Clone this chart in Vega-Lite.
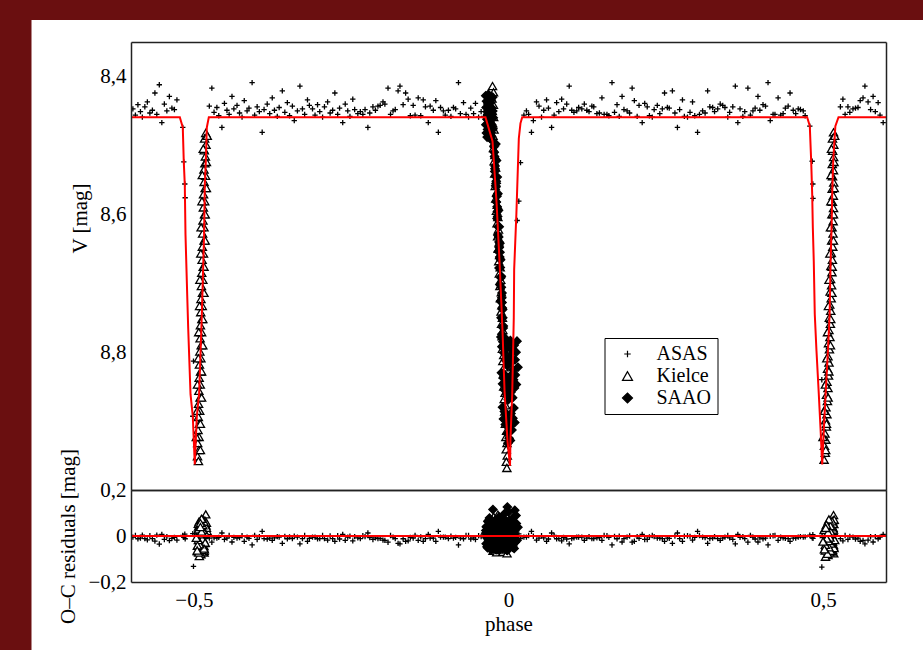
{
"$schema":"https://vega.github.io/schema/vega-lite/v6.json",
"background":"#6a0f10",
"padding":{"left":31,"top":19,"right":0,"bottom":0},
"config":{"view":{"stroke":null},"font":"Liberation Serif","axis":{"domainColor":"#222222","domainWidth":1.5,"tickColor":"#333333","tickWidth":1.5,"labelFont":"Liberation Serif","labelFontSize":21,"labelColor":"black","titleFont":"Liberation Serif","titleFontSize":21,"titleFontWeight":"normal","titleColor":"black","grid":false,"labelFlush":false,"labelOverlap":false,"labelBound":false}},
"datasets":{
"model":[{"phase":-0.6,"V":8.459},{"phase":-0.5224,"V":8.459},{"phase":-0.5177,"V":8.474},{"phase":-0.5161,"V":8.524},{"phase":-0.5145,"V":8.557},{"phase":-0.5134,"V":8.629},{"phase":-0.5107,"V":8.716},{"phase":-0.5091,"V":8.765},{"phase":-0.5054,"V":8.861},{"phase":-0.5018,"V":8.893},{"phase":-0.4986,"V":8.963},{"phase":-0.4954,"V":8.893},{"phase":-0.4918,"V":8.861},{"phase":-0.4881,"V":8.765},{"phase":-0.4865,"V":8.716},{"phase":-0.4838,"V":8.629},{"phase":-0.4827,"V":8.557},{"phase":-0.4811,"V":8.524},{"phase":-0.4795,"V":8.474},{"phase":-0.4763,"V":8.459},{"phase":-0.0366,"V":8.459},{"phase":-0.0254,"V":8.494},{"phase":-0.0191,"V":8.581},{"phase":-0.0143,"V":8.668},{"phase":-0.0095,"V":8.769},{"phase":-0.0063,"V":8.856},{"phase":-0.0016,"V":8.929},{"phase":0.0024,"V":8.965},{"phase":0.0032,"V":8.924},{"phase":0.0059,"V":8.861},{"phase":0.0084,"V":8.75},{"phase":0.009,"V":8.68},{"phase":0.0125,"V":8.6},{"phase":0.0164,"V":8.49},{"phase":0.019,"V":8.468},{"phase":0.0218,"V":8.459},{"phase":0.4747,"V":8.459},{"phase":0.4789,"V":8.472},{"phase":0.4811,"V":8.523},{"phase":0.4827,"V":8.571},{"phase":0.4837,"V":8.619},{"phase":0.4852,"V":8.668},{"phase":0.4868,"V":8.745},{"phase":0.4895,"V":8.798},{"phase":0.4932,"V":8.861},{"phase":0.4959,"V":8.91},{"phase":0.4986,"V":8.963},{"phase":0.5013,"V":8.91},{"phase":0.504,"V":8.861},{"phase":0.5077,"V":8.798},{"phase":0.5104,"V":8.745},{"phase":0.512,"V":8.668},{"phase":0.5135,"V":8.619},{"phase":0.5145,"V":8.571},{"phase":0.5161,"V":8.523},{"phase":0.5195,"V":8.472},{"phase":0.5245,"V":8.459},{"phase":0.6,"V":8.459}],
"zero":[{"phase":-0.6,"OC":0},{"phase":0.6,"OC":0}],
"obs":[
{"phase":-0.597,"V":8.447,"OC":-0.005,"set":"ASAS"},{"phase":-0.593,"V":8.456,"OC":0.002,"set":"ASAS"},{"phase":-0.589,"V":8.441,"OC":-0.012,"set":"ASAS"},{"phase":-0.585,"V":8.451,"OC":-0.009,"set":"ASAS"},{"phase":-0.582,"V":8.459,"OC":0.004,"set":"ASAS"},{"phase":-0.578,"V":8.444,"OC":-0.011,"set":"ASAS"},{"phase":-0.574,"V":8.437,"OC":-0.017,"set":"ASAS"},{"phase":-0.57,"V":8.453,"OC":0.001,"set":"ASAS"},{"phase":-0.566,"V":8.449,"OC":-0.011,"set":"ASAS"},{"phase":-0.562,"V":8.424,"OC":-0.022,"set":"ASAS"},{"phase":-0.559,"V":8.455,"OC":0.004,"set":"ASAS"},{"phase":-0.555,"V":8.412,"OC":-0.035,"set":"ASAS"},{"phase":-0.551,"V":8.467,"OC":0.007,"set":"ASAS"},{"phase":-0.547,"V":8.44,"OC":-0.015,"set":"ASAS"},{"phase":-0.543,"V":8.45,"OC":-0.003,"set":"ASAS"},{"phase":-0.539,"V":8.429,"OC":-0.02,"set":"ASAS"},{"phase":-0.535,"V":8.446,"OC":-0.01,"set":"ASAS"},{"phase":-0.531,"V":8.448,"OC":-0.006,"set":"ASAS"},{"phase":-0.527,"V":8.434,"OC":-0.018,"set":"ASAS"},
{"phase":-0.5177,"V":8.474,"OC":0.003,"set":"ASAS"},{"phase":-0.5161,"V":8.524,"OC":-0.006,"set":"ASAS"},{"phase":-0.5145,"V":8.556,"OC":0.008,"set":"ASAS"},{"phase":-0.5139,"V":8.576,"OC":-0.012,"set":"ASAS"},{"phase":-0.5018,"V":8.893,"OC":0.01,"set":"ASAS"},{"phase":-0.5007,"V":8.813,"OC":-0.132,"set":"ASAS"},
{"phase":-0.4755,"V":8.443,"OC":-0.009,"set":"ASAS"},{"phase":-0.4715,"V":8.417,"OC":-0.027,"set":"ASAS"},{"phase":-0.468,"V":8.452,"OC":-0.008,"set":"ASAS"},{"phase":-0.4635,"V":8.445,"OC":-0.009,"set":"ASAS"},{"phase":-0.4605,"V":8.457,"OC":-0.006,"set":"ASAS"},{"phase":-0.4555,"V":8.474,"OC":0.013,"set":"ASAS"},{"phase":-0.4515,"V":8.439,"OC":-0.015,"set":"ASAS"},{"phase":-0.4475,"V":8.449,"OC":-0.009,"set":"ASAS"},{"phase":-0.444,"V":8.455,"OC":0.002,"set":"ASAS"},{"phase":-0.4395,"V":8.429,"OC":-0.026,"set":"ASAS"},{"phase":-0.4365,"V":8.447,"OC":-0.006,"set":"ASAS"},{"phase":-0.4315,"V":8.442,"OC":-0.009,"set":"ASAS"},{"phase":-0.4275,"V":8.453,"OC":-0.007,"set":"ASAS"},{"phase":-0.4235,"V":8.459,"OC":0.001,"set":"ASAS"},{"phase":-0.42,"V":8.435,"OC":-0.023,"set":"ASAS"},{"phase":-0.4155,"V":8.45,"OC":-0.005,"set":"ASAS"},{"phase":-0.4125,"V":8.446,"OC":-0.01,"set":"ASAS"},{"phase":-0.4075,"V":8.409,"OC":-0.039,"set":"ASAS"},{"phase":-0.4035,"V":8.456,"OC":0.003,"set":"ASAS"},{"phase":-0.3995,"V":8.444,"OC":-0.015,"set":"ASAS"},{"phase":-0.396,"V":8.451,"OC":-0.003,"set":"ASAS"},{"phase":-0.3915,"V":8.481,"OC":0.02,"set":"ASAS"},{"phase":-0.3885,"V":8.448,"OC":-0.011,"set":"ASAS"},{"phase":-0.3835,"V":8.44,"OC":-0.013,"set":"ASAS"},{"phase":-0.3795,"V":8.454,"OC":-0.009,"set":"ASAS"},{"phase":-0.3755,"V":8.431,"OC":-0.019,"set":"ASAS"},{"phase":-0.372,"V":8.449,"OC":-0.008,"set":"ASAS"},{"phase":-0.3675,"V":8.458,"OC":-0.003,"set":"ASAS"},{"phase":-0.3645,"V":8.445,"OC":-0.005,"set":"ASAS"},{"phase":-0.3595,"V":8.421,"OC":-0.032,"set":"ASAS"},{"phase":-0.3555,"V":8.452,"OC":-0.002,"set":"ASAS"},{"phase":-0.3515,"V":8.438,"OC":-0.012,"set":"ASAS"},{"phase":-0.348,"V":8.457,"OC":-0.004,"set":"ASAS"},{"phase":-0.3435,"V":8.443,"OC":-0.011,"set":"ASAS"},{"phase":-0.3405,"V":8.464,"OC":-0.001,"set":"ASAS"},{"phase":-0.3355,"V":8.45,"OC":-0.005,"set":"ASAS"},{"phase":-0.3315,"V":8.414,"OC":-0.034,"set":"ASAS"},{"phase":-0.3275,"V":8.447,"OC":-0.011,"set":"ASAS"},{"phase":-0.324,"V":8.455,"OC":0.002,"set":"ASAS"},{"phase":-0.3195,"V":8.434,"OC":-0.023,"set":"ASAS"},{"phase":-0.3165,"V":8.442,"OC":-0.01,"set":"ASAS"},{"phase":-0.3115,"V":8.447,"OC":-0.005,"set":"ASAS"},{"phase":-0.3075,"V":8.456,"OC":-0.005,"set":"ASAS"},{"phase":-0.3035,"V":8.441,"OC":-0.012,"set":"ASAS"},{"phase":-0.3,"V":8.451,"OC":-0.011,"set":"ASAS"},{"phase":-0.2955,"V":8.459,"OC":0.002,"set":"ASAS"},{"phase":-0.2925,"V":8.444,"OC":-0.011,"set":"ASAS"},{"phase":-0.2875,"V":8.437,"OC":-0.018,"set":"ASAS"},{"phase":-0.2835,"V":8.453,"OC":0.0,"set":"ASAS"},{"phase":-0.2795,"V":8.449,"OC":-0.011,"set":"ASAS"},{"phase":-0.276,"V":8.424,"OC":-0.023,"set":"ASAS"},{"phase":-0.2715,"V":8.455,"OC":0.001,"set":"ASAS"},{"phase":-0.2685,"V":8.446,"OC":-0.013,"set":"ASAS"},{"phase":-0.2635,"V":8.467,"OC":0.007,"set":"ASAS"},{"phase":-0.2595,"V":8.44,"OC":-0.019,"set":"ASAS"},{"phase":-0.2555,"V":8.45,"OC":-0.005,"set":"ASAS"},{"phase":-0.252,"V":8.458,"OC":-0.001,"set":"ASAS"},{"phase":-0.2475,"V":8.433,"OC":-0.021,"set":"ASAS"},{"phase":-0.2445,"V":8.448,"OC":-0.003,"set":"ASAS"},{"phase":-0.2395,"V":8.454,"OC":-0.008,"set":"ASAS"},
{"phase":-0.2355,"V":8.451,"OC":-0.011,"set":"ASAS"},{"phase":-0.2315,"V":8.455,"OC":0.001,"set":"ASAS"},{"phase":-0.228,"V":8.448,"OC":-0.003,"set":"ASAS"},{"phase":-0.2235,"V":8.474,"OC":0.013,"set":"ASAS"},{"phase":-0.2205,"V":8.453,"OC":-0.007,"set":"ASAS"},{"phase":-0.2155,"V":8.444,"OC":-0.015,"set":"ASAS"},{"phase":-0.2115,"V":8.449,"OC":-0.008,"set":"ASAS"},{"phase":-0.2075,"V":8.443,"OC":-0.011,"set":"ASAS"},{"phase":-0.204,"V":8.442,"OC":-0.01,"set":"ASAS"},{"phase":-0.1995,"V":8.437,"OC":-0.018,"set":"ASAS"},{"phase":-0.1965,"V":8.44,"OC":-0.019,"set":"ASAS"},{"phase":-0.1915,"V":8.417,"OC":-0.027,"set":"ASAS"},{"phase":-0.1875,"V":8.455,"OC":0.002,"set":"ASAS"},{"phase":-0.1835,"V":8.45,"OC":-0.005,"set":"ASAS"},{"phase":-0.18,"V":8.448,"OC":-0.011,"set":"ASAS"},{"phase":-0.1755,"V":8.421,"OC":-0.032,"set":"ASAS"},{"phase":-0.1725,"V":8.414,"OC":-0.034,"set":"ASAS"},{"phase":-0.1675,"V":8.441,"OC":-0.012,"set":"ASAS"},{"phase":-0.1635,"V":8.424,"OC":-0.023,"set":"ASAS"},{"phase":-0.1595,"V":8.433,"OC":-0.021,"set":"ASAS"},{"phase":-0.156,"V":8.457,"OC":-0.006,"set":"ASAS"},{"phase":-0.1515,"V":8.442,"OC":-0.009,"set":"ASAS"},{"phase":-0.1485,"V":8.456,"OC":0.003,"set":"ASAS"},{"phase":-0.1435,"V":8.431,"OC":-0.019,"set":"ASAS"},{"phase":-0.1395,"V":8.457,"OC":-0.004,"set":"ASAS"},{"phase":-0.1355,"V":8.434,"OC":-0.023,"set":"ASAS"},{"phase":-0.132,"V":8.444,"OC":-0.011,"set":"ASAS"},{"phase":-0.1275,"V":8.467,"OC":0.007,"set":"ASAS"},{"phase":-0.1245,"V":8.443,"OC":-0.009,"set":"ASAS"},{"phase":-0.1195,"V":8.449,"OC":-0.009,"set":"ASAS"},{"phase":-0.1155,"V":8.435,"OC":-0.023,"set":"ASAS"},{"phase":-0.1115,"V":8.481,"OC":0.02,"set":"ASAS"},{"phase":-0.108,"V":8.445,"OC":-0.005,"set":"ASAS"},{"phase":-0.1035,"V":8.45,"OC":-0.005,"set":"ASAS"},{"phase":-0.1005,"V":8.456,"OC":-0.005,"set":"ASAS"},{"phase":-0.0955,"V":8.449,"OC":-0.011,"set":"ASAS"},{"phase":-0.0915,"V":8.458,"OC":-0.001,"set":"ASAS"},{"phase":-0.0875,"V":8.445,"OC":-0.009,"set":"ASAS"},{"phase":-0.084,"V":8.447,"OC":-0.006,"set":"ASAS"},{"phase":-0.0795,"V":8.409,"OC":-0.039,"set":"ASAS"},{"phase":-0.0765,"V":8.454,"OC":-0.009,"set":"ASAS"},{"phase":-0.0715,"V":8.438,"OC":-0.012,"set":"ASAS"},{"phase":-0.0675,"V":8.455,"OC":0.002,"set":"ASAS"},{"phase":-0.0635,"V":8.459,"OC":0.002,"set":"ASAS"},{"phase":-0.06,"V":8.446,"OC":-0.013,"set":"ASAS"},{"phase":-0.0555,"V":8.454,"OC":-0.008,"set":"ASAS"},{"phase":-0.0525,"V":8.439,"OC":-0.015,"set":"ASAS"},{"phase":-0.0475,"V":8.459,"OC":0.001,"set":"ASAS"},{"phase":-0.0435,"V":8.451,"OC":-0.003,"set":"ASAS"},{"phase":-0.0395,"V":8.458,"OC":-0.003,"set":"ASAS"},
{"phase":0.0138,"V":8.609,"OC":-0.004,"set":"ASAS"},{"phase":0.0164,"V":8.581,"OC":0.009,"set":"ASAS"},{"phase":0.0191,"V":8.525,"OC":-0.011,"set":"ASAS"},
{"phase":0.0245,"V":8.456,"OC":-0.005,"set":"ASAS"},{"phase":0.0285,"V":8.45,"OC":-0.005,"set":"ASAS"},{"phase":0.032,"V":8.455,"OC":0.002,"set":"ASAS"},{"phase":0.0365,"V":8.481,"OC":0.02,"set":"ASAS"},{"phase":0.0395,"V":8.464,"OC":-0.001,"set":"ASAS"},{"phase":0.0445,"V":8.437,"OC":-0.018,"set":"ASAS"},{"phase":0.0485,"V":8.443,"OC":-0.009,"set":"ASAS"},{"phase":0.0525,"V":8.459,"OC":0.001,"set":"ASAS"},{"phase":0.056,"V":8.449,"OC":-0.008,"set":"ASAS"},{"phase":0.0605,"V":8.434,"OC":-0.023,"set":"ASAS"},{"phase":0.0635,"V":8.446,"OC":-0.013,"set":"ASAS"},{"phase":0.0685,"V":8.474,"OC":0.013,"set":"ASAS"},{"phase":0.0725,"V":8.456,"OC":0.003,"set":"ASAS"},{"phase":0.0765,"V":8.438,"OC":-0.012,"set":"ASAS"},{"phase":0.08,"V":8.451,"OC":-0.011,"set":"ASAS"},{"phase":0.0845,"V":8.433,"OC":-0.021,"set":"ASAS"},{"phase":0.0875,"V":8.447,"OC":-0.006,"set":"ASAS"},{"phase":0.0925,"V":8.44,"OC":-0.013,"set":"ASAS"},{"phase":0.0965,"V":8.414,"OC":-0.034,"set":"ASAS"},{"phase":0.1005,"V":8.449,"OC":-0.011,"set":"ASAS"},{"phase":0.104,"V":8.452,"OC":-0.008,"set":"ASAS"},{"phase":0.1085,"V":8.45,"OC":-0.005,"set":"ASAS"},{"phase":0.1115,"V":8.445,"OC":-0.005,"set":"ASAS"},{"phase":0.1165,"V":8.447,"OC":-0.005,"set":"ASAS"},{"phase":0.1205,"V":8.44,"OC":-0.019,"set":"ASAS"},{"phase":0.1245,"V":8.449,"OC":-0.009,"set":"ASAS"},{"phase":0.128,"V":8.451,"OC":-0.003,"set":"ASAS"},{"phase":0.1325,"V":8.443,"OC":-0.011,"set":"ASAS"},{"phase":0.1355,"V":8.444,"OC":-0.011,"set":"ASAS"},{"phase":0.1405,"V":8.454,"OC":-0.008,"set":"ASAS"},{"phase":0.1445,"V":8.453,"OC":-0.007,"set":"ASAS"},{"phase":0.1485,"V":8.431,"OC":-0.019,"set":"ASAS"},{"phase":0.152,"V":8.455,"OC":0.002,"set":"ASAS"},{"phase":0.1565,"V":8.455,"OC":0.001,"set":"ASAS"},{"phase":0.1595,"V":8.457,"OC":-0.006,"set":"ASAS"},{"phase":0.1645,"V":8.409,"OC":-0.039,"set":"ASAS"},{"phase":0.1685,"V":8.452,"OC":-0.002,"set":"ASAS"},{"phase":0.1725,"V":8.441,"OC":-0.012,"set":"ASAS"},{"phase":0.176,"V":8.458,"OC":-0.001,"set":"ASAS"},{"phase":0.1805,"V":8.429,"OC":-0.026,"set":"ASAS"},{"phase":0.1835,"V":8.448,"OC":-0.011,"set":"ASAS"},{"phase":0.1885,"V":8.45,"OC":-0.005,"set":"ASAS"},{"phase":0.1925,"V":8.453,"OC":0.0,"set":"ASAS"},{"phase":0.1965,"V":8.417,"OC":-0.027,"set":"ASAS"},{"phase":0.2,"V":8.435,"OC":-0.023,"set":"ASAS"},{"phase":0.2045,"V":8.458,"OC":-0.003,"set":"ASAS"},{"phase":0.2075,"V":8.442,"OC":-0.01,"set":"ASAS"},{"phase":0.2125,"V":8.467,"OC":0.007,"set":"ASAS"},{"phase":0.2165,"V":8.439,"OC":-0.015,"set":"ASAS"},{"phase":0.2205,"V":8.444,"OC":-0.015,"set":"ASAS"},{"phase":0.224,"V":8.457,"OC":-0.004,"set":"ASAS"},{"phase":0.2285,"V":8.459,"OC":0.002,"set":"ASAS"},{"phase":0.2315,"V":8.448,"OC":-0.003,"set":"ASAS"},{"phase":0.2365,"V":8.442,"OC":-0.009,"set":"ASAS"},{"phase":0.2405,"V":8.454,"OC":-0.009,"set":"ASAS"},{"phase":0.2445,"V":8.447,"OC":-0.011,"set":"ASAS"},{"phase":0.248,"V":8.424,"OC":-0.023,"set":"ASAS"},{"phase":0.2525,"V":8.445,"OC":-0.009,"set":"ASAS"},{"phase":0.2555,"V":8.446,"OC":-0.01,"set":"ASAS"},{"phase":0.2605,"V":8.421,"OC":-0.032,"set":"ASAS"},
{"phase":0.2645,"V":8.453,"OC":0.0,"set":"ASAS"},{"phase":0.2685,"V":8.474,"OC":0.013,"set":"ASAS"},{"phase":0.272,"V":8.448,"OC":-0.011,"set":"ASAS"},{"phase":0.2765,"V":8.434,"OC":-0.023,"set":"ASAS"},{"phase":0.2795,"V":8.458,"OC":-0.001,"set":"ASAS"},{"phase":0.2845,"V":8.459,"OC":0.001,"set":"ASAS"},{"phase":0.2885,"V":8.452,"OC":-0.002,"set":"ASAS"},{"phase":0.2925,"V":8.437,"OC":-0.018,"set":"ASAS"},{"phase":0.296,"V":8.457,"OC":-0.006,"set":"ASAS"},{"phase":0.3005,"V":8.481,"OC":0.02,"set":"ASAS"},{"phase":0.3035,"V":8.455,"OC":0.002,"set":"ASAS"},{"phase":0.3085,"V":8.45,"OC":-0.005,"set":"ASAS"},{"phase":0.3125,"V":8.453,"OC":-0.007,"set":"ASAS"},{"phase":0.3165,"V":8.421,"OC":-0.032,"set":"ASAS"},{"phase":0.32,"V":8.444,"OC":-0.011,"set":"ASAS"},{"phase":0.3245,"V":8.445,"OC":-0.009,"set":"ASAS"},{"phase":0.3275,"V":8.451,"OC":-0.003,"set":"ASAS"},{"phase":0.3325,"V":8.447,"OC":-0.011,"set":"ASAS"},{"phase":0.3365,"V":8.44,"OC":-0.019,"set":"ASAS"},{"phase":0.3405,"V":8.442,"OC":-0.009,"set":"ASAS"},{"phase":0.344,"V":8.445,"OC":-0.005,"set":"ASAS"},{"phase":0.3485,"V":8.459,"OC":0.002,"set":"ASAS"},{"phase":0.3515,"V":8.452,"OC":-0.008,"set":"ASAS"},{"phase":0.3565,"V":8.444,"OC":-0.015,"set":"ASAS"},{"phase":0.3605,"V":8.414,"OC":-0.034,"set":"ASAS"},{"phase":0.3645,"V":8.467,"OC":0.007,"set":"ASAS"},{"phase":0.368,"V":8.447,"OC":-0.006,"set":"ASAS"},{"phase":0.3725,"V":8.458,"OC":-0.003,"set":"ASAS"},{"phase":0.3755,"V":8.451,"OC":-0.011,"set":"ASAS"},{"phase":0.3805,"V":8.417,"OC":-0.027,"set":"ASAS"},{"phase":0.3845,"V":8.456,"OC":0.003,"set":"ASAS"},{"phase":0.3885,"V":8.45,"OC":-0.005,"set":"ASAS"},{"phase":0.392,"V":8.446,"OC":-0.013,"set":"ASAS"},{"phase":0.3965,"V":8.429,"OC":-0.026,"set":"ASAS"},{"phase":0.3995,"V":8.449,"OC":-0.008,"set":"ASAS"},{"phase":0.4045,"V":8.441,"OC":-0.012,"set":"ASAS"},{"phase":0.4085,"V":8.443,"OC":-0.009,"set":"ASAS"},{"phase":0.4125,"V":8.409,"OC":-0.039,"set":"ASAS"},{"phase":0.416,"V":8.464,"OC":-0.001,"set":"ASAS"},{"phase":0.4205,"V":8.455,"OC":0.001,"set":"ASAS"},{"phase":0.4235,"V":8.455,"OC":0.002,"set":"ASAS"},{"phase":0.4285,"V":8.431,"OC":-0.019,"set":"ASAS"},{"phase":0.4325,"V":8.456,"OC":-0.005,"set":"ASAS"},{"phase":0.4365,"V":8.454,"OC":-0.008,"set":"ASAS"},{"phase":0.44,"V":8.446,"OC":-0.01,"set":"ASAS"},{"phase":0.4445,"V":8.443,"OC":-0.011,"set":"ASAS"},{"phase":0.4475,"V":8.424,"OC":-0.023,"set":"ASAS"},{"phase":0.4525,"V":8.449,"OC":-0.009,"set":"ASAS"},{"phase":0.4565,"V":8.454,"OC":-0.009,"set":"ASAS"},{"phase":0.4605,"V":8.447,"OC":-0.005,"set":"ASAS"},{"phase":0.464,"V":8.448,"OC":-0.003,"set":"ASAS"},{"phase":0.4685,"V":8.45,"OC":-0.005,"set":"ASAS"},{"phase":0.4715,"V":8.457,"OC":-0.004,"set":"ASAS"},
{"phase":0.4789,"V":8.472,"OC":0.004,"set":"ASAS"},{"phase":0.4827,"V":8.523,"OC":-0.008,"set":"ASAS"},{"phase":0.4837,"V":8.556,"OC":0.006,"set":"ASAS"},{"phase":0.484,"V":8.577,"OC":-0.01,"set":"ASAS"},{"phase":0.498,"V":8.84,"OC":-0.135,"set":"ASAS"},
{"phase":0.5275,"V":8.444,"OC":-0.011,"set":"ASAS"},{"phase":0.5315,"V":8.433,"OC":-0.021,"set":"ASAS"},{"phase":0.535,"V":8.455,"OC":0.002,"set":"ASAS"},{"phase":0.5395,"V":8.444,"OC":-0.015,"set":"ASAS"},{"phase":0.5425,"V":8.452,"OC":-0.002,"set":"ASAS"},{"phase":0.5475,"V":8.447,"OC":-0.005,"set":"ASAS"},{"phase":0.5515,"V":8.446,"OC":-0.013,"set":"ASAS"},{"phase":0.5555,"V":8.445,"OC":-0.009,"set":"ASAS"},{"phase":0.559,"V":8.435,"OC":-0.023,"set":"ASAS"},{"phase":0.5635,"V":8.431,"OC":-0.019,"set":"ASAS"},{"phase":0.5665,"V":8.414,"OC":-0.034,"set":"ASAS"},{"phase":0.5715,"V":8.437,"OC":-0.018,"set":"ASAS"},{"phase":0.5755,"V":8.448,"OC":-0.003,"set":"ASAS"},{"phase":0.5795,"V":8.429,"OC":-0.026,"set":"ASAS"},{"phase":0.583,"V":8.451,"OC":-0.003,"set":"ASAS"},{"phase":0.5875,"V":8.438,"OC":-0.012,"set":"ASAS"},{"phase":0.5905,"V":8.456,"OC":-0.005,"set":"ASAS"},{"phase":0.5955,"V":8.467,"OC":0.007,"set":"ASAS"},
{"phase":-0.4812,"V":8.482,"OC":0.094,"set":"Kielce"},{"phase":-0.483,"V":8.49,"OC":-0.031,"set":"Kielce"},{"phase":-0.4808,"V":8.499,"OC":0.046,"set":"Kielce"},{"phase":-0.4835,"V":8.507,"OC":-0.058,"set":"Kielce"},{"phase":-0.4818,"V":8.516,"OC":0.012,"set":"Kielce"},{"phase":-0.4826,"V":8.526,"OC":0.067,"set":"Kielce"},{"phase":-0.484,"V":8.535,"OC":-0.044,"set":"Kielce"},{"phase":-0.4815,"V":8.544,"OC":0.025,"set":"Kielce"},{"phase":-0.4838,"V":8.553,"OC":-0.072,"set":"Kielce"},{"phase":-0.4822,"V":8.562,"OC":0.038,"set":"Kielce"},{"phase":-0.4847,"V":8.571,"OC":-0.015,"set":"Kielce"},{"phase":-0.4829,"V":8.581,"OC":0.055,"set":"Kielce"},{"phase":-0.485,"V":8.59,"OC":-0.049,"set":"Kielce"},{"phase":-0.4831,"V":8.6,"OC":0.008,"set":"Kielce"},{"phase":-0.4856,"V":8.609,"OC":0.071,"set":"Kielce"},{"phase":-0.484,"V":8.619,"OC":-0.026,"set":"Kielce"},{"phase":-0.4862,"V":8.628,"OC":0.033,"set":"Kielce"},{"phase":-0.4838,"V":8.638,"OC":-0.064,"set":"Kielce"},{"phase":-0.4866,"V":8.647,"OC":0.019,"set":"Kielce"},{"phase":-0.4848,"V":8.657,"OC":0.052,"set":"Kielce"},{"phase":-0.487,"V":8.666,"OC":-0.038,"set":"Kielce"},{"phase":-0.4852,"V":8.676,"OC":0.004,"set":"Kielce"},{"phase":-0.4876,"V":8.685,"OC":0.061,"set":"Kielce"},{"phase":-0.4858,"V":8.695,"OC":-0.053,"set":"Kielce"},{"phase":-0.4881,"V":8.704,"OC":0.027,"set":"Kielce"},{"phase":-0.4864,"V":8.714,"OC":-0.011,"set":"Kielce"},{"phase":-0.4888,"V":8.723,"OC":0.044,"set":"Kielce"},{"phase":-0.4868,"V":8.733,"OC":-0.068,"set":"Kielce"},{"phase":-0.4892,"V":8.742,"OC":0.015,"set":"Kielce"},{"phase":-0.4873,"V":8.752,"OC":0.036,"set":"Kielce"},{"phase":-0.4897,"V":8.761,"OC":-0.047,"set":"Kielce"},{"phase":-0.4878,"V":8.771,"OC":0.058,"set":"Kielce"},{"phase":-0.4902,"V":8.78,"OC":-0.022,"set":"Kielce"},{"phase":-0.4884,"V":8.79,"OC":0.009,"set":"Kielce"},{"phase":-0.4906,"V":8.799,"OC":0.049,"set":"Kielce"},{"phase":-0.4889,"V":8.809,"OC":-0.079,"set":"Kielce"},{"phase":-0.4912,"V":8.818,"OC":0.031,"set":"Kielce"},{"phase":-0.4894,"V":8.828,"OC":-0.035,"set":"Kielce"},{"phase":-0.4917,"V":8.837,"OC":0.063,"set":"Kielce"},{"phase":-0.4899,"V":8.847,"OC":-0.006,"set":"Kielce"},{"phase":-0.4921,"V":8.856,"OC":0.022,"set":"Kielce"},{"phase":-0.4903,"V":8.866,"OC":-0.058,"set":"Kielce"},{"phase":-0.4926,"V":8.875,"OC":0.041,"set":"Kielce"},{"phase":-0.4908,"V":8.885,"OC":-0.019,"set":"Kielce"},{"phase":-0.493,"V":8.894,"OC":0.053,"set":"Kielce"},{"phase":-0.4914,"V":8.904,"OC":-0.087,"set":"Kielce"},{"phase":-0.4935,"V":8.913,"OC":0.017,"set":"Kielce"},{"phase":-0.4918,"V":8.923,"OC":0.035,"set":"Kielce"},{"phase":-0.494,"V":8.932,"OC":-0.042,"set":"Kielce"},{"phase":-0.4922,"V":8.942,"OC":0.011,"set":"Kielce"},{"phase":-0.4943,"V":8.951,"OC":-0.066,"set":"Kielce"},{"phase":-0.4928,"V":8.958,"OC":0.029,"set":"Kielce"},
{"phase":-0.4788,"V":8.486,"OC":0.021,"set":"Kielce"},{"phase":-0.4852,"V":8.505,"OC":-0.047,"set":"Kielce"},{"phase":-0.4802,"V":8.524,"OC":0.058,"set":"Kielce"},{"phase":-0.4867,"V":8.543,"OC":-0.012,"set":"Kielce"},{"phase":-0.4802,"V":8.562,"OC":0.036,"set":"Kielce"},{"phase":-0.4872,"V":8.581,"OC":-0.061,"set":"Kielce"},{"phase":-0.4821,"V":8.6,"OC":0.014,"set":"Kielce"},{"phase":-0.4886,"V":8.619,"OC":0.069,"set":"Kielce"},{"phase":-0.4821,"V":8.638,"OC":-0.029,"set":"Kielce"},{"phase":-0.4891,"V":8.657,"OC":0.042,"set":"Kielce"},{"phase":-0.484,"V":8.676,"OC":-0.055,"set":"Kielce"},{"phase":-0.4905,"V":8.695,"OC":0.007,"set":"Kielce"},{"phase":-0.484,"V":8.714,"OC":0.063,"set":"Kielce"},{"phase":-0.491,"V":8.733,"OC":-0.036,"set":"Kielce"},{"phase":-0.4859,"V":8.752,"OC":0.026,"set":"Kielce"},{"phase":-0.4924,"V":8.771,"OC":-0.072,"set":"Kielce"},{"phase":-0.4859,"V":8.79,"OC":0.047,"set":"Kielce"},{"phase":-0.4929,"V":8.809,"OC":-0.018,"set":"Kielce"},{"phase":-0.4878,"V":8.828,"OC":0.075,"set":"Kielce"},{"phase":-0.4943,"V":8.847,"OC":-0.041,"set":"Kielce"},{"phase":-0.4878,"V":8.866,"OC":0.019,"set":"Kielce"},{"phase":-0.4948,"V":8.885,"OC":-0.063,"set":"Kielce"},{"phase":-0.4897,"V":8.904,"OC":0.056,"set":"Kielce"},{"phase":-0.4962,"V":8.923,"OC":-0.008,"set":"Kielce"},{"phase":-0.4897,"V":8.942,"OC":0.039,"set":"Kielce"},
{"phase":0.5166,"V":8.481,"OC":0.091,"set":"Kielce"},{"phase":0.5149,"V":8.49,"OC":-0.024,"set":"Kielce"},{"phase":0.517,"V":8.499,"OC":0.052,"set":"Kielce"},{"phase":0.5152,"V":8.508,"OC":-0.061,"set":"Kielce"},{"phase":0.5168,"V":8.517,"OC":0.018,"set":"Kielce"},{"phase":0.5146,"V":8.527,"OC":0.063,"set":"Kielce"},{"phase":0.5165,"V":8.536,"OC":-0.039,"set":"Kielce"},{"phase":0.515,"V":8.545,"OC":0.029,"set":"Kielce"},{"phase":0.5169,"V":8.554,"OC":-0.075,"set":"Kielce"},{"phase":0.5144,"V":8.563,"OC":0.042,"set":"Kielce"},{"phase":0.5163,"V":8.573,"OC":-0.012,"set":"Kielce"},{"phase":0.5148,"V":8.582,"OC":0.057,"set":"Kielce"},{"phase":0.5166,"V":8.591,"OC":-0.046,"set":"Kielce"},{"phase":0.514,"V":8.6,"OC":0.005,"set":"Kielce"},{"phase":0.516,"V":8.61,"OC":0.068,"set":"Kielce"},{"phase":0.5143,"V":8.619,"OC":-0.029,"set":"Kielce"},{"phase":0.5158,"V":8.628,"OC":0.036,"set":"Kielce"},{"phase":0.5136,"V":8.638,"OC":-0.067,"set":"Kielce"},{"phase":0.5154,"V":8.647,"OC":0.021,"set":"Kielce"},{"phase":0.513,"V":8.656,"OC":0.049,"set":"Kielce"},{"phase":0.5148,"V":8.666,"OC":-0.035,"set":"Kielce"},{"phase":0.5124,"V":8.675,"OC":0.007,"set":"Kielce"},{"phase":0.5141,"V":8.684,"OC":0.059,"set":"Kielce"},{"phase":0.5119,"V":8.694,"OC":-0.056,"set":"Kielce"},{"phase":0.5135,"V":8.703,"OC":0.024,"set":"Kielce"},{"phase":0.5112,"V":8.712,"OC":-0.014,"set":"Kielce"},{"phase":0.5129,"V":8.722,"OC":0.047,"set":"Kielce"},{"phase":0.5106,"V":8.731,"OC":-0.071,"set":"Kielce"},{"phase":0.5122,"V":8.74,"OC":0.013,"set":"Kielce"},{"phase":0.5099,"V":8.75,"OC":0.039,"set":"Kielce"},{"phase":0.5116,"V":8.759,"OC":-0.044,"set":"Kielce"},{"phase":0.5093,"V":8.768,"OC":0.055,"set":"Kielce"},{"phase":0.5109,"V":8.778,"OC":-0.019,"set":"Kielce"},{"phase":0.5086,"V":8.787,"OC":0.011,"set":"Kielce"},{"phase":0.5101,"V":8.796,"OC":0.046,"set":"Kielce"},{"phase":0.5078,"V":8.806,"OC":-0.083,"set":"Kielce"},{"phase":0.5094,"V":8.815,"OC":0.028,"set":"Kielce"},{"phase":0.5071,"V":8.824,"OC":-0.032,"set":"Kielce"},{"phase":0.5086,"V":8.834,"OC":0.066,"set":"Kielce"},{"phase":0.5062,"V":8.843,"OC":-0.009,"set":"Kielce"},{"phase":0.5078,"V":8.852,"OC":0.025,"set":"Kielce"},{"phase":0.5054,"V":8.862,"OC":-0.061,"set":"Kielce"},{"phase":0.5069,"V":8.871,"OC":0.038,"set":"Kielce"},{"phase":0.5046,"V":8.88,"OC":-0.016,"set":"Kielce"},{"phase":0.5061,"V":8.89,"OC":0.05,"set":"Kielce"},{"phase":0.5038,"V":8.899,"OC":-0.09,"set":"Kielce"},{"phase":0.5052,"V":8.908,"OC":0.014,"set":"Kielce"},{"phase":0.503,"V":8.918,"OC":0.032,"set":"Kielce"},{"phase":0.5044,"V":8.927,"OC":-0.045,"set":"Kielce"},{"phase":0.5022,"V":8.936,"OC":0.009,"set":"Kielce"},{"phase":0.5035,"V":8.946,"OC":-0.063,"set":"Kielce"},{"phase":0.5016,"V":8.956,"OC":0.026,"set":"Kielce"},
{"phase":0.5185,"V":8.486,"OC":-0.018,"set":"Kielce"},{"phase":0.5133,"V":8.505,"OC":0.044,"set":"Kielce"},{"phase":0.5174,"V":8.524,"OC":-0.052,"set":"Kielce"},{"phase":0.5126,"V":8.543,"OC":0.017,"set":"Kielce"},{"phase":0.5177,"V":8.562,"OC":0.071,"set":"Kielce"},{"phase":0.5124,"V":8.581,"OC":-0.033,"set":"Kielce"},{"phase":0.5165,"V":8.6,"OC":0.028,"set":"Kielce"},{"phase":0.5117,"V":8.619,"OC":-0.064,"set":"Kielce"},{"phase":0.5164,"V":8.638,"OC":0.053,"set":"Kielce"},{"phase":0.5108,"V":8.657,"OC":-0.007,"set":"Kielce"},{"phase":0.5145,"V":8.676,"OC":0.038,"set":"Kielce"},{"phase":0.5094,"V":8.695,"OC":-0.049,"set":"Kielce"},{"phase":0.5141,"V":8.714,"OC":0.064,"set":"Kielce"},{"phase":0.5085,"V":8.733,"OC":-0.022,"set":"Kielce"},{"phase":0.5122,"V":8.752,"OC":0.019,"set":"Kielce"},{"phase":0.507,"V":8.771,"OC":-0.077,"set":"Kielce"},{"phase":0.5117,"V":8.79,"OC":0.043,"set":"Kielce"},{"phase":0.5059,"V":8.809,"OC":-0.011,"set":"Kielce"},{"phase":0.5092,"V":8.828,"OC":0.072,"set":"Kielce"},{"phase":0.5037,"V":8.847,"OC":-0.038,"set":"Kielce"},{"phase":0.508,"V":8.866,"OC":0.016,"set":"Kielce"},{"phase":0.5021,"V":8.885,"OC":-0.058,"set":"Kielce"},{"phase":0.5054,"V":8.904,"OC":0.049,"set":"Kielce"},{"phase":0.4999,"V":8.923,"OC":-0.024,"set":"Kielce"},{"phase":0.5042,"V":8.942,"OC":0.035,"set":"Kielce"},
{"phase":-0.0254,"V":8.414,"OC":0.045,"set":"Kielce"},{"phase":-0.0238,"V":8.423,"OC":-0.021,"set":"Kielce"},{"phase":-0.0262,"V":8.432,"OC":0.068,"set":"Kielce"},{"phase":-0.024,"V":8.441,"OC":-0.052,"set":"Kielce"},{"phase":-0.0258,"V":8.45,"OC":0.013,"set":"Kielce"},{"phase":-0.0236,"V":8.459,"OC":0.084,"set":"Kielce"},{"phase":-0.0252,"V":8.468,"OC":-0.037,"set":"Kielce"},{"phase":-0.023,"V":8.477,"OC":0.026,"set":"Kielce"},{"phase":-0.0246,"V":8.486,"OC":-0.064,"set":"Kielce"},{"phase":-0.0224,"V":8.495,"OC":0.051,"set":"Kielce"},{"phase":-0.0239,"V":8.504,"OC":-0.008,"set":"Kielce"},{"phase":-0.0216,"V":8.514,"OC":0.037,"set":"Kielce"},{"phase":-0.0228,"V":8.523,"OC":-0.045,"set":"Kielce"},{"phase":-0.0205,"V":8.532,"OC":0.072,"set":"Kielce"},{"phase":-0.0219,"V":8.541,"OC":0.004,"set":"Kielce"},{"phase":-0.0196,"V":8.55,"OC":-0.029,"set":"Kielce"},{"phase":-0.0211,"V":8.559,"OC":0.059,"set":"Kielce"},{"phase":-0.0188,"V":8.568,"OC":-0.071,"set":"Kielce"},{"phase":-0.0202,"V":8.577,"OC":0.019,"set":"Kielce"},{"phase":-0.0178,"V":8.586,"OC":0.041,"set":"Kielce"},{"phase":-0.0192,"V":8.595,"OC":-0.016,"set":"Kielce"},{"phase":-0.0169,"V":8.604,"OC":0.093,"set":"Kielce"},{"phase":-0.0182,"V":8.613,"OC":-0.056,"set":"Kielce"},{"phase":-0.016,"V":8.622,"OC":0.031,"set":"Kielce"},{"phase":-0.0173,"V":8.632,"OC":0.003,"set":"Kielce"},{"phase":-0.015,"V":8.641,"OC":-0.041,"set":"Kielce"},{"phase":-0.0164,"V":8.65,"OC":0.064,"set":"Kielce"},{"phase":-0.0141,"V":8.659,"OC":-0.024,"set":"Kielce"},{"phase":-0.0155,"V":8.668,"OC":0.011,"set":"Kielce"},{"phase":-0.0132,"V":8.677,"OC":0.048,"set":"Kielce"},{"phase":-0.0146,"V":8.686,"OC":-0.061,"set":"Kielce"},{"phase":-0.0123,"V":8.695,"OC":0.027,"set":"Kielce"},{"phase":-0.0136,"V":8.704,"OC":-0.033,"set":"Kielce"},{"phase":-0.0114,"V":8.713,"OC":0.057,"set":"Kielce"},{"phase":-0.0127,"V":8.722,"OC":-0.012,"set":"Kielce"},{"phase":-0.0105,"V":8.732,"OC":0.079,"set":"Kielce"},{"phase":-0.0118,"V":8.741,"OC":-0.048,"set":"Kielce"},{"phase":-0.0097,"V":8.75,"OC":0.021,"set":"Kielce"},{"phase":-0.011,"V":8.759,"OC":0.006,"set":"Kielce"},{"phase":-0.009,"V":8.768,"OC":-0.069,"set":"Kielce"},{"phase":-0.0103,"V":8.777,"OC":0.043,"set":"Kielce"},{"phase":-0.0083,"V":8.786,"OC":-0.027,"set":"Kielce"},{"phase":-0.0097,"V":8.795,"OC":0.062,"set":"Kielce"},{"phase":-0.0076,"V":8.804,"OC":0.015,"set":"Kielce"},{"phase":-0.009,"V":8.813,"OC":-0.054,"set":"Kielce"},{"phase":-0.007,"V":8.822,"OC":0.034,"set":"Kielce"},{"phase":-0.0084,"V":8.832,"OC":-0.003,"set":"Kielce"},{"phase":-0.0063,"V":8.841,"OC":0.071,"set":"Kielce"},{"phase":-0.0076,"V":8.85,"OC":-0.038,"set":"Kielce"},{"phase":-0.0055,"V":8.859,"OC":0.028,"set":"Kielce"},{"phase":-0.0068,"V":8.868,"OC":-0.059,"set":"Kielce"},{"phase":-0.0046,"V":8.877,"OC":0.049,"set":"Kielce"},{"phase":-0.0059,"V":8.886,"OC":0.01,"set":"Kielce"},{"phase":-0.0038,"V":8.895,"OC":-0.044,"set":"Kielce"},{"phase":-0.005,"V":8.904,"OC":0.066,"set":"Kielce"},{"phase":-0.003,"V":8.914,"OC":-0.018,"set":"Kielce"},{"phase":-0.0042,"V":8.923,"OC":0.038,"set":"Kielce"},{"phase":-0.0024,"V":8.932,"OC":-0.075,"set":"Kielce"},{"phase":-0.0036,"V":8.941,"OC":0.023,"set":"Kielce"},{"phase":-0.002,"V":8.95,"OC":0.054,"set":"Kielce"},{"phase":-0.0034,"V":8.959,"OC":-0.009,"set":"Kielce"},{"phase":-0.0026,"V":8.968,"OC":0.031,"set":"Kielce"},
{"phase":-0.0362,"V":8.428,"OC":0.012,"set":"SAAO"},{"phase":-0.0355,"V":8.445,"OC":-0.034,"set":"SAAO"},{"phase":-0.0349,"V":8.436,"OC":0.041,"set":"SAAO"},{"phase":-0.0343,"V":8.462,"OC":-0.008,"set":"SAAO"},{"phase":-0.0338,"V":8.451,"OC":0.026,"set":"SAAO"},{"phase":-0.0333,"V":8.477,"OC":-0.051,"set":"SAAO"},{"phase":-0.0328,"V":8.44,"OC":0.063,"set":"SAAO"},{"phase":-0.0322,"V":8.468,"OC":0.005,"set":"SAAO"},{"phase":-0.0317,"V":8.455,"OC":-0.022,"set":"SAAO"},{"phase":-0.0312,"V":8.486,"OC":0.036,"set":"SAAO"},{"phase":-0.0307,"V":8.432,"OC":-0.015,"set":"SAAO"},{"phase":-0.0302,"V":8.472,"OC":0.078,"set":"SAAO"},{"phase":-0.0297,"V":8.449,"OC":-0.043,"set":"SAAO"},{"phase":-0.0292,"V":8.49,"OC":0.019,"set":"SAAO"},{"phase":-0.0287,"V":8.438,"OC":0.002,"set":"SAAO"},{"phase":-0.0282,"V":8.463,"OC":-0.029,"set":"SAAO"},{"phase":-0.0277,"V":8.481,"OC":0.054,"set":"SAAO"},{"phase":-0.0272,"V":8.445,"OC":-0.061,"set":"SAAO"},{"phase":-0.0267,"V":8.47,"OC":0.031,"set":"SAAO"},{"phase":-0.0262,"V":8.455,"OC":0.009,"set":"SAAO"},{"phase":-0.0257,"V":8.493,"OC":-0.038,"set":"SAAO"},{"phase":-0.0252,"V":8.43,"OC":0.047,"set":"SAAO"},{"phase":-0.0247,"V":8.476,"OC":0.115,"set":"SAAO"},{"phase":-0.0242,"V":8.46,"OC":-0.012,"set":"SAAO"},{"phase":-0.036,"V":8.47,"OC":0.024,"set":"SAAO"},{"phase":-0.034,"V":8.488,"OC":-0.047,"set":"SAAO"},{"phase":-0.032,"V":8.426,"OC":0.067,"set":"SAAO"},{"phase":-0.03,"V":8.458,"OC":0.015,"set":"SAAO"},{"phase":-0.028,"V":8.434,"OC":-0.025,"set":"SAAO"},{"phase":-0.035,"V":8.482,"OC":0.039,"set":"SAAO"},{"phase":-0.033,"V":8.455,"OC":0.021,"set":"SAAO"},{"phase":-0.031,"V":8.444,"OC":-0.017,"set":"SAAO"},{"phase":-0.029,"V":8.473,"OC":0.044,"set":"SAAO"},{"phase":-0.027,"V":8.487,"OC":-0.036,"set":"SAAO"},{"phase":-0.025,"V":8.45,"OC":0.008,"set":"SAAO"},
{"phase":-0.023,"V":8.502,"OC":-0.041,"set":"SAAO"},{"phase":-0.0222,"V":8.516,"OC":0.027,"set":"SAAO"},{"phase":-0.0214,"V":8.53,"OC":0.065,"set":"SAAO"},{"phase":-0.0205,"V":8.545,"OC":-0.019,"set":"SAAO"},{"phase":-0.0197,"V":8.56,"OC":0.034,"set":"SAAO"},{"phase":-0.0188,"V":8.574,"OC":-0.058,"set":"SAAO"},{"phase":-0.018,"V":8.589,"OC":0.012,"set":"SAAO"},{"phase":-0.0172,"V":8.603,"OC":0.049,"set":"SAAO"},{"phase":-0.0163,"V":8.618,"OC":-0.027,"set":"SAAO"},{"phase":-0.0155,"V":8.633,"OC":0.073,"set":"SAAO"},{"phase":-0.0147,"V":8.648,"OC":-0.008,"set":"SAAO"},{"phase":-0.0139,"V":8.662,"OC":0.038,"set":"SAAO"},{"phase":-0.013,"V":8.677,"OC":-0.046,"set":"SAAO"},{"phase":-0.0122,"V":8.692,"OC":0.021,"set":"SAAO"},{"phase":-0.0114,"V":8.706,"OC":0.056,"set":"SAAO"},{"phase":-0.0106,"V":8.721,"OC":-0.033,"set":"SAAO"},{"phase":-0.0098,"V":8.736,"OC":0.004,"set":"SAAO"},{"phase":-0.0091,"V":8.75,"OC":0.061,"set":"SAAO"},{"phase":-0.0084,"V":8.765,"OC":-0.052,"set":"SAAO"},{"phase":-0.0218,"V":8.538,"OC":0.029,"set":"SAAO"},{"phase":-0.0176,"V":8.596,"OC":0.015,"set":"SAAO"},{"phase":-0.0135,"V":8.655,"OC":-0.024,"set":"SAAO"},{"phase":-0.0102,"V":8.728,"OC":0.047,"set":"SAAO"},{"phase":-0.0195,"V":8.552,"OC":-0.011,"set":"SAAO"},{"phase":-0.015,"V":8.64,"OC":0.083,"set":"SAAO"},
{"phase":-0.0201,"V":8.498,"OC":0.018,"set":"SAAO"},{"phase":-0.0226,"V":8.51,"OC":-0.036,"set":"SAAO"},{"phase":-0.019,"V":8.522,"OC":0.052,"set":"SAAO"},{"phase":-0.0215,"V":8.534,"OC":-0.009,"set":"SAAO"},{"phase":-0.0179,"V":8.546,"OC":0.031,"set":"SAAO"},{"phase":-0.0204,"V":8.558,"OC":-0.047,"set":"SAAO"},{"phase":-0.0168,"V":8.57,"OC":0.066,"set":"SAAO"},{"phase":-0.0193,"V":8.582,"OC":0.006,"set":"SAAO"},{"phase":-0.0158,"V":8.594,"OC":-0.028,"set":"SAAO"},{"phase":-0.0182,"V":8.606,"OC":0.044,"set":"SAAO"},{"phase":-0.0147,"V":8.618,"OC":-0.061,"set":"SAAO"},{"phase":-0.0171,"V":8.63,"OC":0.023,"set":"SAAO"},{"phase":-0.0136,"V":8.642,"OC":0.058,"set":"SAAO"},{"phase":-0.0161,"V":8.654,"OC":-0.016,"set":"SAAO"},{"phase":-0.0125,"V":8.666,"OC":0.037,"set":"SAAO"},{"phase":-0.015,"V":8.678,"OC":-0.042,"set":"SAAO"},{"phase":-0.0114,"V":8.69,"OC":0.071,"set":"SAAO"},{"phase":-0.0139,"V":8.702,"OC":0.002,"set":"SAAO"},{"phase":-0.0103,"V":8.714,"OC":-0.033,"set":"SAAO"},{"phase":-0.0128,"V":8.726,"OC":0.049,"set":"SAAO"},{"phase":-0.0093,"V":8.738,"OC":-0.054,"set":"SAAO"},{"phase":-0.0117,"V":8.75,"OC":0.014,"set":"SAAO"},{"phase":-0.0082,"V":8.762,"OC":0.062,"set":"SAAO"},{"phase":-0.0106,"V":8.774,"OC":-0.021,"set":"SAAO"},
{"phase":-0.012,"V":8.778,"OC":0.032,"set":"SAAO"},{"phase":-0.0105,"V":8.792,"OC":-0.047,"set":"SAAO"},{"phase":-0.009,"V":8.785,"OC":0.071,"set":"SAAO"},{"phase":-0.0075,"V":8.801,"OC":0.008,"set":"SAAO"},{"phase":-0.006,"V":8.779,"OC":-0.025,"set":"SAAO"},{"phase":-0.0045,"V":8.812,"OC":0.052,"set":"SAAO"},{"phase":-0.003,"V":8.795,"OC":-0.061,"set":"SAAO"},{"phase":-0.0015,"V":8.82,"OC":0.019,"set":"SAAO"},{"phase":0.0,"V":8.788,"OC":0.104,"set":"SAAO"},{"phase":0.0015,"V":8.806,"OC":-0.012,"set":"SAAO"},{"phase":0.003,"V":8.783,"OC":0.043,"set":"SAAO"},{"phase":0.0045,"V":8.815,"OC":-0.036,"set":"SAAO"},{"phase":0.006,"V":8.797,"OC":0.066,"set":"SAAO"},{"phase":0.0075,"V":8.826,"OC":0.002,"set":"SAAO"},{"phase":0.009,"V":8.79,"OC":-0.054,"set":"SAAO"},{"phase":0.0105,"V":8.811,"OC":0.027,"set":"SAAO"},{"phase":0.012,"V":8.8,"OC":0.089,"set":"SAAO"},{"phase":0.0135,"V":8.784,"OC":-0.019,"set":"SAAO"},{"phase":0.015,"V":8.822,"OC":0.038,"set":"SAAO"},{"phase":-0.0112,"V":8.83,"OC":-0.042,"set":"SAAO"},{"phase":-0.0095,"V":8.846,"OC":0.015,"set":"SAAO"},{"phase":-0.008,"V":8.838,"OC":0.077,"set":"SAAO"},{"phase":-0.0062,"V":8.855,"OC":-0.031,"set":"SAAO"},{"phase":-0.0048,"V":8.834,"OC":0.049,"set":"SAAO"},{"phase":-0.0032,"V":8.861,"OC":-0.007,"set":"SAAO"},{"phase":-0.0018,"V":8.842,"OC":0.126,"set":"SAAO"},{"phase":-0.0004,"V":8.869,"OC":-0.058,"set":"SAAO"},{"phase":0.001,"V":8.849,"OC":0.024,"set":"SAAO"},{"phase":0.0024,"V":8.835,"OC":0.061,"set":"SAAO"},{"phase":0.0038,"V":8.858,"OC":-0.015,"set":"SAAO"},{"phase":0.0052,"V":8.844,"OC":0.035,"set":"SAAO"},{"phase":0.0066,"V":8.866,"OC":-0.049,"set":"SAAO"},{"phase":0.008,"V":8.84,"OC":0.082,"set":"SAAO"},{"phase":0.0094,"V":8.852,"OC":0.011,"set":"SAAO"},{"phase":0.0108,"V":8.833,"OC":-0.027,"set":"SAAO"},{"phase":0.0125,"V":8.847,"OC":0.054,"set":"SAAO"},{"phase":-0.0095,"V":8.88,"OC":-0.038,"set":"SAAO"},{"phase":-0.008,"V":8.897,"OC":0.018,"set":"SAAO"},{"phase":-0.0065,"V":8.886,"OC":0.097,"set":"SAAO"},{"phase":-0.005,"V":8.905,"OC":-0.004,"set":"SAAO"},{"phase":-0.0035,"V":8.891,"OC":0.041,"set":"SAAO"},{"phase":-0.002,"V":8.918,"OC":-0.063,"set":"SAAO"},{"phase":-0.0005,"V":8.9,"OC":0.029,"set":"SAAO"},{"phase":0.001,"V":8.925,"OC":0.068,"set":"SAAO"},{"phase":0.0025,"V":8.908,"OC":-0.021,"set":"SAAO"},{"phase":0.004,"V":8.889,"OC":0.013,"set":"SAAO"},{"phase":0.0055,"V":8.913,"OC":0.058,"set":"SAAO"},{"phase":0.007,"V":8.896,"OC":-0.044,"set":"SAAO"},{"phase":0.0085,"V":8.881,"OC":0.036,"set":"SAAO"},{"phase":0.01,"V":8.902,"OC":0.112,"set":"SAAO"},{"phase":-0.001,"V":8.932,"OC":-0.009,"set":"SAAO"},{"phase":0.003,"V":8.928,"OC":0.047,"set":"SAAO"}
]},
"spacing":0,
"bounds":"flush",
"resolve":{"scale":{"shape":"independent","fill":"independent","stroke":"independent"}},
"vconcat":[
{"width":755,"height":448,
"layer":[
{"data":{"values":[{"bg":1}]},"mark":{"type":"rect","fill":"white","clip":false},
"encoding":{"x":{"datum":-0.75815,"type":"quantitative","scale":{"domain":[-0.6,0.6],"nice":false,"zero":false},"axis":null},"x2":{"datum":0.6595},"y":{"datum":8.31808,"type":"quantitative","scale":{"domain":[8.35,9.0],"reverse":true,"nice":false,"zero":false},"axis":null},"y2":{"datum":9.2335}}},
{"data":{"name":"obs"},"mark":{"type":"point","filled":false,"strokeWidth":1.3,"opacity":1,"size":68,"clip":true},
"encoding":{
"x":{"field":"phase","type":"quantitative","scale":{"domain":[-0.6,0.6],"nice":false,"zero":false},"axis":{"orient":"bottom","values":[-0.5,-0.25,0,0.25,0.5],"labels":false,"ticks":false,"title":null,"zindex":1}},
"y":{"field":"V","type":"quantitative","scale":{"domain":[8.35,9.0],"reverse":true,"nice":false,"zero":false},"axis":{"orient":"left","values":[8.4,8.5,8.6,8.7,8.8,8.9],"title":"V [mag]","titleY":176,"titlePadding":9,"labelPadding":5,"tickSize":0,"labelExpr":"abs(datum.value*5-round(datum.value*5))<0.001 ? replace(format(datum.value,'.1f'),'.',',') : ''","encode":{"ticks":{"update":{"x2":{"signal":"abs(datum.value*5-round(datum.value*5))<0.001 ? 15 : 8"}}}},"zindex":1}},
"shape":{"field":"set","type":"nominal","scale":{"domain":["ASAS","Kielce","SAAO"],"range":["M-0.65,0H0.65M0,-0.65V0.65","triangle-up","diamond"]},"legend":{"title":null,"orient":"none","legendX":473.5,"legendY":296,"padding":6,"symbolOffset":7,"labelOffset":19,"rowPadding":2,"labelFont":"Liberation Serif","labelFontSize":20,"labelColor":"black","strokeColor":"black","fillColor":"white","symbolStrokeWidth":1.2,"zindex":1}},
"fill":{"field":"set","type":"nominal","scale":{"domain":["ASAS","Kielce","SAAO"],"range":["black","white","black"]},"legend":{"title":null,"orient":"none","legendX":473.5,"legendY":296,"padding":6,"symbolOffset":7,"labelOffset":19,"rowPadding":2,"labelFont":"Liberation Serif","labelFontSize":20,"labelColor":"black","strokeColor":"black","fillColor":"white","symbolStrokeWidth":1.2,"zindex":1}},
"stroke":{"field":"set","type":"nominal","scale":{"domain":["ASAS","Kielce","SAAO"],"range":["black","black","black"]},"legend":{"title":null,"orient":"none","legendX":473.5,"legendY":296,"padding":6,"symbolOffset":7,"labelOffset":19,"rowPadding":2,"labelFont":"Liberation Serif","labelFontSize":20,"labelColor":"black","strokeColor":"black","fillColor":"white","symbolStrokeWidth":1.2,"zindex":1}}
}},
{"data":{"name":"model"},"mark":{"type":"line","color":"#ff0000","strokeWidth":2,"clip":true},
"encoding":{
"x":{"field":"phase","type":"quantitative","scale":{"domain":[-0.6,0.6],"nice":false,"zero":false},"axis":{"orient":"top","values":[-0.5,-0.25,0,0.25,0.5],"labels":false,"title":null,"tickSize":0,"encode":{"ticks":{"update":{"y2":{"signal":"abs(datum.value*2-round(datum.value*2))<0.001 ? 15 : 8"}}}},"zindex":1}},
"y":{"field":"V","type":"quantitative","scale":{"domain":[8.35,9.0],"reverse":true,"nice":false,"zero":false},"axis":{"orient":"right","values":[8.4,8.5,8.6,8.7,8.8,8.9],"labels":false,"title":null,"tickSize":0,"encode":{"ticks":{"update":{"x2":{"signal":"abs(datum.value*5-round(datum.value*5))<0.001 ? -15 : -8"}}}},"zindex":1}}
}}
],
"resolve":{"axis":{"x":"independent","y":"independent"}}
},
{"width":755,"height":92,
"layer":[
{"data":{"name":"obs"},"mark":{"type":"point","filled":false,"stroke":"black","strokeWidth":1.3,"opacity":1,"size":68,"clip":true},
"encoding":{
"x":{"field":"phase","type":"quantitative","scale":{"domain":[-0.6,0.6],"nice":false,"zero":false},"axis":{"orient":"bottom","values":[-0.5,-0.25,0,0.25,0.5],"title":"phase","titlePadding":3,"labelPadding":7,"tickSize":0,"labelExpr":"abs(datum.value*2-round(datum.value*2))<0.001 ? (datum.value==0 ? '0' : replace(format(datum.value,'.1f'),'.',',')) : ''","encode":{"ticks":{"update":{"y2":{"signal":"abs(datum.value*2-round(datum.value*2))<0.001 ? -15 : -8"}}}},"zindex":1}},
"y":{"field":"OC","type":"quantitative","scale":{"domain":[-0.2,0.2],"nice":false,"zero":false},"axis":{"orient":"left","values":[-0.2,-0.1,0,0.1,0.2],"title":"O–C residuals [mag]","titlePadding":9,"labelPadding":5,"tickSize":0,"labelExpr":"abs(datum.value*5-round(datum.value*5))<0.001 ? (datum.value==0 ? '0' : replace(format(datum.value,'.1f'),'.',',')) : ''","encode":{"ticks":{"update":{"x2":{"signal":"abs(datum.value*5-round(datum.value*5))<0.001 ? 15 : 8"}}}},"zindex":1}},
"shape":{"field":"set","type":"nominal","scale":{"domain":["ASAS","Kielce","SAAO"],"range":["M-0.65,0H0.65M0,-0.65V0.65","triangle-up","diamond"]},"legend":null},
"fill":{"field":"set","type":"nominal","scale":{"domain":["ASAS","Kielce","SAAO"],"range":["black","white","black"]},"legend":null}
}},
{"data":{"name":"zero"},"mark":{"type":"line","color":"#ff0000","strokeWidth":2,"clip":true},
"encoding":{
"x":{"field":"phase","type":"quantitative","scale":{"domain":[-0.6,0.6],"nice":false,"zero":false},"axis":{"orient":"top","values":[-0.5,-0.25,0,0.25,0.5],"labels":false,"title":null,"tickSize":0,"encode":{"ticks":{"update":{"y2":{"signal":"abs(datum.value*2-round(datum.value*2))<0.001 ? 15 : 8"}}}},"zindex":1}},
"y":{"field":"OC","type":"quantitative","scale":{"domain":[-0.2,0.2],"nice":false,"zero":false},"axis":{"orient":"right","values":[-0.2,-0.1,0,0.1,0.2],"labels":false,"title":null,"tickSize":0,"encode":{"ticks":{"update":{"x2":{"signal":"abs(datum.value*5-round(datum.value*5))<0.001 ? -15 : -8"}}}},"zindex":1}}
}}
],
"resolve":{"axis":{"x":"independent","y":"independent"}}
}
]
}
